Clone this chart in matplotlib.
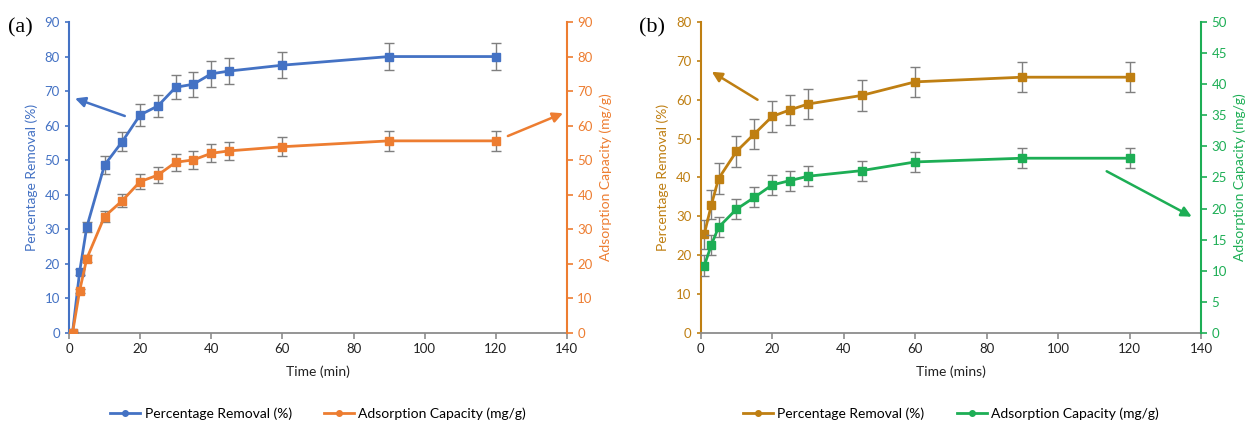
import matplotlib
matplotlib.use('Agg')
from matplotlib import pyplot as plt
from matplotlib.lines import Line2D

plt.rcParams['font.family'] = ['Lato', 'DejaVu Sans']

# panel (a)
time_a = [1, 3, 5, 10, 15, 20, 25, 30, 35, 40, 45, 60, 90, 120]
removal_a = [0, 17.7, 30.6, 48.6, 55.4, 63.1, 65.7, 71.1, 72.0, 75.0, 75.8, 77.5, 80.0, 80.0]
removal_a_err = [0.3, 0.8, 1.4, 2.5, 2.8, 3.2, 3.3, 3.5, 3.6, 3.8, 3.8, 3.8, 4.0, 4.0]
capacity_a = [0, 12.2, 21.5, 33.7, 38.3, 43.8, 45.7, 49.4, 50.1, 52.0, 52.7, 53.9, 55.6, 55.6]
capacity_a_err = [0.2, 0.6, 1.0, 1.5, 1.8, 2.2, 2.3, 2.4, 2.5, 2.6, 2.6, 2.7, 2.8, 2.8]

# panel (b)
time_b = [1, 3, 5, 10, 15, 20, 25, 30, 45, 60, 90, 120]
removal_b = [25.4, 33.0, 39.7, 46.7, 51.2, 55.7, 57.4, 58.9, 61.1, 64.6, 65.8, 65.8]
removal_b_err = [3.7, 3.8, 3.9, 3.9, 3.9, 3.9, 3.9, 3.9, 3.9, 3.9, 3.9, 3.9]
capacity_b = [10.8, 14.2, 17.0, 19.9, 21.8, 23.8, 24.5, 25.2, 26.1, 27.5, 28.1, 28.1]
capacity_b_err = [1.7, 1.6, 1.6, 1.6, 1.6, 1.6, 1.6, 1.6, 1.6, 1.6, 1.6, 1.6]

legend_labels = ['Percentage Removal (%)', 'Adsorption Capacity (mg/g)']

BLUE = '#4472C4'
ORANGE = '#ED7D31'
GOLD = '#BF7F12'
GREEN = '#1DAE55'
ERR = '#7F7F7F'
AXIS = '#8C8C8C'


def panel(fig, rect, t, y1, e1, y2, e2, c1, c2, ylim1, ystep1, ylim2, ystep2, xlabel, tag):
    ax = fig.add_axes(rect)
    ax2 = ax.twinx()
    for a in (ax, ax2):
        a.spines['top'].set_visible(False)
        a.set_xlim(0, 140)
        a.set_xticks(range(0, 141, 20))
    ax.spines['right'].set_visible(False)
    ax.spines['bottom'].set_color(AXIS)
    ax.spines['bottom'].set_linewidth(1.3)
    ax.spines['left'].set_color(c1)
    ax.spines['left'].set_linewidth(1.5)
    ax2.spines['left'].set_visible(False)
    ax2.spines['bottom'].set_visible(False)
    ax2.spines['right'].set_color(c2)
    ax2.spines['right'].set_linewidth(1.5)

    ax.set_ylim(0, ylim1)
    ax.set_yticks(range(0, ylim1 + 1, ystep1))
    ax2.set_ylim(0, ylim2)
    ax2.set_yticks(range(0, ylim2 + 1, ystep2))

    ax.tick_params(axis='y', colors=c1, labelsize=9.5, length=3, width=1.2)
    ax.tick_params(axis='x', colors=AXIS, labelcolor='#222222', labelsize=9.5, length=4, width=1.2)
    ax2.tick_params(axis='y', colors=c2, labelsize=9.5, length=4, width=1.2)

    ax.errorbar(t, y1, yerr=e1, color=c1, lw=2, marker='s', ms=6,
                ecolor=ERR, elinewidth=1, capsize=3.5, capthick=1, zorder=3)
    ax2.errorbar(t, y2, yerr=e2, color=c2, lw=2, marker='s', ms=6,
                 ecolor=ERR, elinewidth=1, capsize=3.5, capthick=1, zorder=3)

    ax.set_xlabel(xlabel, fontsize=10, color='#222222', labelpad=7)
    ax.set_ylabel(legend_labels[0], fontsize=10, color=c1, labelpad=5)
    ax2.set_ylabel(legend_labels[1], fontsize=10, color=c2, labelpad=5)

    fig.text(rect[0] - 0.049, 0.935, tag, fontsize=16, family='Liberation Serif', ha='left', va='center')

    handles = [Line2D([], [], color=c1, lw=2, marker='o', ms=4),
               Line2D([], [], color=c2, lw=2, marker='o', ms=4)]
    ax.legend(handles, legend_labels, loc='center', bbox_to_anchor=(0.5, -0.26),
              ncol=2, frameon=False, fontsize=10, handlelength=2.2,
              handletextpad=0.3, columnspacing=2.3)
    return ax, ax2


fig = plt.figure(figsize=(12.49, 4.23), dpi=100)

ax_a, ax_a2 = panel(fig, [0.0552, 0.2128, 0.3987, 0.7352], time_a, removal_a, removal_a_err,
                    capacity_a, capacity_a_err, BLUE, ORANGE, 90, 10, 90, 10, 'Time (min)', '(a)')
ax_b, ax_b2 = panel(fig, [0.561, 0.2128, 0.4006, 0.7352], time_b, removal_b, removal_b_err,
                    capacity_b, capacity_b_err, GOLD, GREEN, 80, 10, 50, 5, 'Time (mins)', '(b)')

arrow = dict(arrowstyle='-|>', lw=1.8, mutation_scale=15, shrinkA=0, shrinkB=0)
ax_a.annotate('', xy=(1.7, 67.9), xytext=(15.7, 62.8), arrowprops=dict(arrow, color=BLUE))
ax_a2.annotate('', xy=(138.9, 63.6), xytext=(123.4, 57.0), arrowprops=dict(arrow, color=ORANGE))
ax_b.annotate('', xy=(3.1, 67.2), xytext=(15.9, 60.0), arrowprops=dict(arrow, color=GOLD))
ax_b2.annotate('', xy=(137.4, 18.7), xytext=(113.6, 26.0), arrowprops=dict(arrow, color=GREEN))

plt.savefig('out.png', dpi=100)
plt.close()
